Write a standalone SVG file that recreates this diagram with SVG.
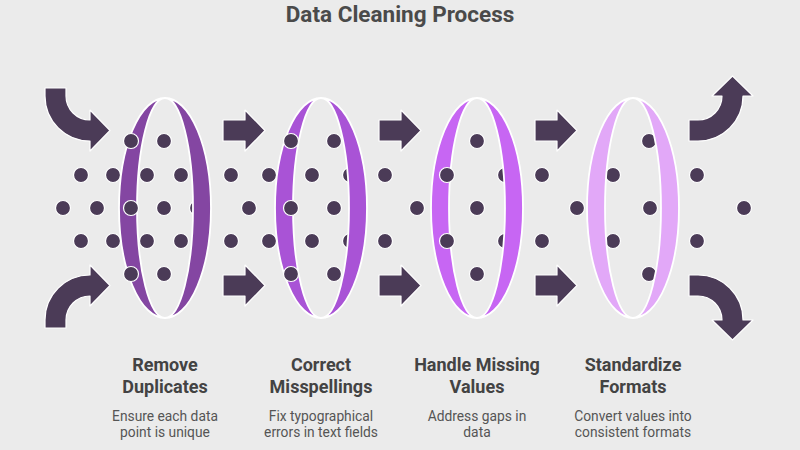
<svg xmlns="http://www.w3.org/2000/svg" width="800" height="450" viewBox="0 0 800 450">
<style>
.bg{fill:#ebebeb}
.dot{fill:#4b3b57;stroke:#ffffff;stroke-width:1.2}
.arrow{fill:#4b3b57;stroke:#ffffff;stroke-width:1.2;stroke-linejoin:round}
.ring{stroke:#ffffff;stroke-width:1.8;stroke-linejoin:round}
.title{font-family:Roboto,"Liberation Sans",sans-serif;font-weight:bold;font-size:22.5px;fill:#4a4a4a;text-anchor:middle}
.label{font-family:Roboto,"Liberation Sans",sans-serif;font-weight:bold;font-size:18px;fill:#434343;text-anchor:middle}
.desc{font-family:Roboto,"Liberation Sans",sans-serif;font-size:13.8px;fill:#555555;text-anchor:middle}
</style>
<defs>
<path id="arrR" d="M0 120 L22 120 L22 110 L42 130.5 L22 151 L22 141 L0 141 Z"/>
<path id="arrR2" d="M0 275 L22 275 L22 265 L42 285.5 L22 306 L22 296 L0 296 Z"/>
<g id="ringHalves">
<path d="M0 98 A46 110 0 0 0 0 318 A28 110 0 0 1 0 98 Z"/>
<path d="M0 98 A46 110 0 0 1 0 318 A28 110 0 0 0 0 98 Z"/>
</g>
</defs>
<rect class="bg" x="0" y="0" width="800" height="450"/>
<text class="title" x="400" y="22">Data Cleaning Process</text>

<g id="connectors">
<path class="arrow" d="M45 88 L66 88 L66 96 A24 24 0 0 0 90 120 L90 110 L110 130.5 L90 151 L90 141 A45 45 0 0 1 45 96 Z"/>
<path class="arrow" d="M45 328 L66 328 L66 320 A24 24 0 0 1 90 296 L90 306 L110 285.5 L90 265 L90 275 A45 45 0 0 0 45 320 Z"/>
<use href="#arrR" class="arrow" x="223"/>
<use href="#arrR2" class="arrow" x="223"/>
<use href="#arrR" class="arrow" x="379"/>
<use href="#arrR2" class="arrow" x="379"/>
<use href="#arrR" class="arrow" x="535"/>
<use href="#arrR2" class="arrow" x="535"/>
<path class="arrow" d="M689 120 L698 120 A24 24 0 0 0 722 96 L712 96 L732.5 76 L753 96 L743 96 A45 45 0 0 1 698 141 L689 141 Z"/>
<path class="arrow" d="M689 296 L698 296 A24 24 0 0 1 722 320 L712 320 L732.5 340 L753 320 L743 320 A45 45 0 0 0 698 275 L689 275 Z"/>
</g>

<g id="data-points">
<circle class="dot" cx="164" cy="141" r="7.5"/><circle class="dot" cx="334" cy="141" r="7.5"/><circle class="dot" cx="477" cy="141" r="7.5"/><circle class="dot" cx="649" cy="141" r="7.5"/>
<circle class="dot" cx="164" cy="274" r="7.5"/><circle class="dot" cx="334" cy="274" r="7.5"/><circle class="dot" cx="477" cy="274" r="7.5"/><circle class="dot" cx="649" cy="274" r="7.5"/>
<circle class="dot" cx="81" cy="175" r="7.5"/><circle class="dot" cx="113" cy="175" r="7.5"/><circle class="dot" cx="147" cy="175" r="7.5"/><circle class="dot" cx="181" cy="175" r="7.5"/><circle class="dot" cx="231" cy="175" r="7.5"/><circle class="dot" cx="269" cy="175" r="7.5"/><circle class="dot" cx="312" cy="175" r="7.5"/><circle class="dot" cx="350" cy="175" r="7.5"/><circle class="dot" cx="385" cy="175" r="7.5"/><circle class="dot" cx="505" cy="175" r="7.5"/><circle class="dot" cx="542" cy="175" r="7.5"/><circle class="dot" cx="613" cy="175" r="7.5"/><circle class="dot" cx="697" cy="175" r="7.5"/>
<circle class="dot" cx="81" cy="241" r="7.5"/><circle class="dot" cx="113" cy="241" r="7.5"/><circle class="dot" cx="147" cy="241" r="7.5"/><circle class="dot" cx="181" cy="241" r="7.5"/><circle class="dot" cx="231" cy="241" r="7.5"/><circle class="dot" cx="269" cy="241" r="7.5"/><circle class="dot" cx="312" cy="241" r="7.5"/><circle class="dot" cx="350" cy="241" r="7.5"/><circle class="dot" cx="385" cy="241" r="7.5"/><circle class="dot" cx="505" cy="241" r="7.5"/><circle class="dot" cx="542" cy="241" r="7.5"/><circle class="dot" cx="613" cy="241" r="7.5"/><circle class="dot" cx="697" cy="241" r="7.5"/>
<circle class="dot" cx="63" cy="208" r="7.5"/><circle class="dot" cx="97" cy="208" r="7.5"/><circle class="dot" cx="164" cy="208" r="7.5"/><circle class="dot" cx="197" cy="208" r="7.5"/><circle class="dot" cx="249" cy="208" r="7.5"/><circle class="dot" cx="334" cy="208" r="7.5"/><circle class="dot" cx="417" cy="208" r="7.5"/><circle class="dot" cx="477" cy="208" r="7.5"/><circle class="dot" cx="577" cy="208" r="7.5"/><circle class="dot" cx="650" cy="208" r="7.5"/><circle class="dot" cx="744" cy="208" r="7.5"/>
</g>

<g id="step-remove-duplicates">
<use href="#ringHalves" class="ring" x="165" fill="#8446a2"/>
<circle class="dot" cx="131" cy="141" r="7.5"/><circle class="dot" cx="131" cy="208" r="7.5"/><circle class="dot" cx="131" cy="274" r="7.5"/>
<text class="label" x="165" y="371">Remove</text>
<text class="label" x="165" y="393">Duplicates</text>
<text class="desc" x="165" y="421">Ensure each data</text>
<text class="desc" x="165" y="437">point is unique</text>
</g>

<g id="step-correct-misspellings">
<use href="#ringHalves" class="ring" x="321" fill="#a953d6"/>
<circle class="dot" cx="291" cy="141" r="7.5"/><circle class="dot" cx="291" cy="208" r="7.5"/><circle class="dot" cx="291" cy="274" r="7.5"/>
<text class="label" x="321" y="371">Correct</text>
<text class="label" x="321" y="393">Misspellings</text>
<text class="desc" x="321" y="421">Fix typographical</text>
<text class="desc" x="321" y="437">errors in text fields</text>
</g>

<g id="step-handle-missing-values">
<use href="#ringHalves" class="ring" x="477" fill="#c766f3"/>
<circle class="dot" cx="447" cy="175" r="7.5"/><circle class="dot" cx="447" cy="241" r="7.5"/>
<text class="label" x="477" y="371">Handle Missing</text>
<text class="label" x="477" y="393">Values</text>
<text class="desc" x="477" y="421">Address gaps in</text>
<text class="desc" x="477" y="437">data</text>
</g>

<g id="step-standardize-formats">
<use href="#ringHalves" class="ring" x="633" fill="#e2a8f8"/>
<text class="label" x="633" y="371">Standardize</text>
<text class="label" x="633" y="393">Formats</text>
<text class="desc" x="633" y="421">Convert values into</text>
<text class="desc" x="633" y="437">consistent formats</text>
</g>
</svg>
